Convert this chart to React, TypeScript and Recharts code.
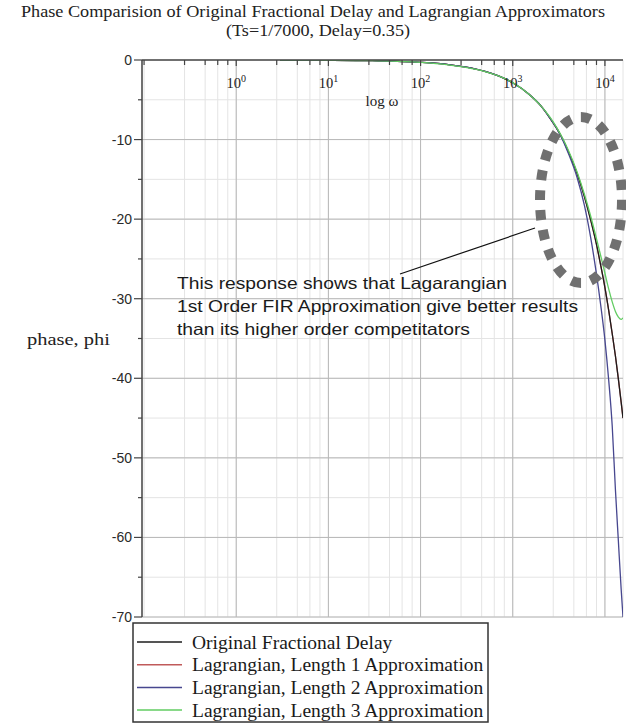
import { CartesianGrid, Line, LineChart, ReferenceLine, XAxis, YAxis } from 'recharts'

// frequency points (rad/s) read along the log axis
const omega = [3, 10, 30, 100, 200, 300, 500, 700, 1000, 1500, 2000, 2500, 3000, 3500, 4000, 5000, 6000, 7000, 8000, 9000, 10000, 11000, 12000, 13000, 14000, 15000, 15708]

// phase in degrees
const original = [-0.01, -0.03, -0.09, -0.29, -0.57, -0.86, -1.43, -2.0, -2.86, -4.3, -5.7, -7.2, -8.6, -10.0, -11.5, -14.3, -17.2, -20.1, -22.9, -25.8, -28.6, -31.5, -34.4, -37.2, -40.1, -43.0, -45.0]
const length1 = [-0.01, -0.03, -0.09, -0.29, -0.57, -0.86, -1.43, -2.0, -2.86, -4.3, -5.7, -7.2, -8.6, -10.0, -11.5, -14.3, -17.2, -20.1, -22.9, -25.8, -28.6, -31.5, -34.4, -37.2, -40.1, -43.0, -45.0]
const length2 = [-0.01, -0.03, -0.09, -0.29, -0.57, -0.86, -1.43, -2.0, -2.86, -4.3, -5.7, -7.2, -8.6, -10.1, -11.7, -14.8, -18.3, -22.3, -26.5, -30.8, -35.2, -40.3, -46.0, -54.0, -60.5, -66.5, -70.0]
const length3 = [-0.01, -0.03, -0.09, -0.29, -0.6, -0.9, -1.45, -2.0, -2.85, -4.3, -5.7, -7.1, -8.5, -9.9, -11.3, -14.1, -16.9, -19.6, -22.2, -24.6, -26.8, -28.8, -30.4, -31.6, -32.3, -32.6, -32.4]

const xTicks = [0.1, 0.275, 0.46, 0.63, 0.81, 1, 2.75, 4.6, 6.3, 8.1, 10, 27.5, 46, 63, 81, 100, 275, 460, 630, 810, 1000, 2750, 4600, 6300, 8100, 10000]
const xDecades = [1, 10, 100, 1000, 10000]
const yTicks = [0, -5, -10, -15, -20, -25, -30, -35, -40, -45, -50, -55, -60, -65, -70]
const yMajors = [-10, -20, -30, -40, -50, -60, -70]

const series = [
  { key: 'len1', name: 'Lagrangian, Length 1 Approximation', color: '#c05a5a', values: length1 },
  { key: 'orig', name: 'Original Fractional Delay', color: '#1c1c1c', values: original },
  { key: 'len2', name: 'Lagrangian, Length 2 Approximation', color: '#47478f', values: length2 },
  { key: 'len3', name: 'Lagrangian, Length 3 Approximation', color: '#62cc62', values: length3 },
]
const legendOrder = ['orig', 'len1', 'len2', 'len3']

const data = omega.map((w, i) => {
  const row: Record<string, number> = { w }
  series.forEach((s) => (row[s.key] = s.values[i]))
  return row
})

const SERIF = '"Liberation Serif", "Times New Roman", serif'
const SANS = '"Liberation Sans", Arial, sans-serif'

function XTick({ x, y, payload }: any) {
  const e = Math.log10(payload.value)
  const decade = Math.abs(e - Math.round(e)) < 1e-6 && e >= 0
  return (
    <g>
      <line x1={x} x2={x} y1={y} y2={y + (decade ? 6 : 5)} stroke="#444" strokeWidth={1.2} />
      {decade && (
        <text x={x} y={y + 28} textAnchor="middle" fontFamily={SERIF} fontSize={14.5} fill="#222">
          10<tspan dy={-6} fontSize={10}>{Math.round(e)}</tspan>
        </text>
      )}
    </g>
  )
}

function YTick({ x, y, payload }: any) {
  const major = payload.value % 10 === 0
  return (
    <g>
      <line x1={x - (major ? 8 : 4)} x2={x} y1={y} y2={y} stroke="#444" strokeWidth={1.2} />
      {major && (
        <text x={x - 10} y={y + 5} textAnchor="end" fontFamily={SANS} fontSize={14} fill="#2a2a2a">
          {payload.value}
        </text>
      )}
    </g>
  )
}

export default function App() {
  return (
    <div style={{ position: 'absolute', left: 0, top: 0, width: 626, height: 724, background: '#fff' }}>
      <LineChart width={626} height={632} data={data} margin={{ top: 60, right: 3, bottom: 15, left: 92 }}>
        <CartesianGrid stroke="#e4e4e4" strokeWidth={1} />
        {xDecades.map((v) => (
          <ReferenceLine key={'x' + v} x={v} stroke="#b8b8b8" strokeWidth={1} />
        ))}
        {yMajors.map((v) => (
          <ReferenceLine key={'y' + v} y={v} stroke="#b8b8b8" strokeWidth={1} />
        ))}
        <XAxis
          dataKey="w"
          type="number"
          scale="log"
          domain={[0.095, 15708]}
          allowDataOverflow
          orientation="top"
          mirror
          ticks={xTicks}
          tick={<XTick />}
          tickLine={false}
          tickSize={0}
          tickMargin={0}
          interval={0}
          axisLine={{ stroke: '#444', strokeWidth: 1.5 }}
        />
        <YAxis
          type="number"
          domain={[-70, 0]}
          allowDataOverflow
          ticks={yTicks}
          interval={0}
          width={50}
          tick={<YTick />}
          tickLine={false}
          tickSize={0}
          tickMargin={0}
          axisLine={{ stroke: '#444', strokeWidth: 1.5 }}
        />
        {series.map((s) => (
          <Line
            key={s.key}
            dataKey={s.key}
            type="monotone"
            stroke={s.color}
            strokeWidth={1.3}
            dot={false}
            isAnimationActive={false}
          />
        ))}
      </LineChart>

      <svg width={626} height={724} style={{ position: 'absolute', left: 0, top: 0, pointerEvents: 'none' }}>
        <text x={313} y={16.5} textAnchor="middle" fontFamily={SERIF} fontSize={16.5} fill="#222" textLength={584} lengthAdjust="spacingAndGlyphs">
          Phase Comparision of Original Fractional Delay and Lagrangian Approximators
        </text>
        <text x={318} y={36} textAnchor="middle" fontFamily={SERIF} fontSize={16.5} fill="#222" textLength={184} lengthAdjust="spacingAndGlyphs">
          (Ts=1/7000, Delay=0.35)
        </text>
        <text x={382} y={106} textAnchor="middle" fontFamily={SERIF} fontSize={15} fill="#222">
          log ω
        </text>
        <text x={27} y={345} fontFamily={SERIF} fontSize={16.5} fill="#222" textLength={83} lengthAdjust="spacingAndGlyphs">
          phase, phi
        </text>

        <text fontFamily={SANS} fontSize={16.5} fill="#1a1a1a">
          <tspan x={177} y={289} textLength={330} lengthAdjust="spacingAndGlyphs">This response shows that Lagarangian</tspan>
          <tspan x={177} y={312} textLength={401} lengthAdjust="spacingAndGlyphs">1st Order FIR Approximation give better results</tspan>
          <tspan x={177} y={335} textLength={293} lengthAdjust="spacingAndGlyphs">than its higher order competitators</tspan>
        </text>
        <line x1={400} y1={274} x2={535} y2={228} stroke="#111" strokeWidth={1.2} />
        <ellipse cx={581} cy={200} rx={41} ry={83} fill="none" stroke="#707070" strokeWidth={10} strokeDasharray="10 10" />

        <rect x={133} y={623} width={355} height={99} fill="#fff" stroke="#333" strokeWidth={1.5} />
        {legendOrder.map((k, i) => {
          const s = series.find((d) => d.key === k)!
          const cy = 642 + i * 22.7
          return (
            <g key={k}>
              <line x1={137} x2={182} y1={cy} y2={cy} stroke={s.color} strokeWidth={1.5} />
              <text x={192} y={cy + 6.5} fontFamily={SERIF} fontSize={19.5} fill="#1a1a1a">
                {s.name}
              </text>
            </g>
          )
        })}
      </svg>
    </div>
  )
}
